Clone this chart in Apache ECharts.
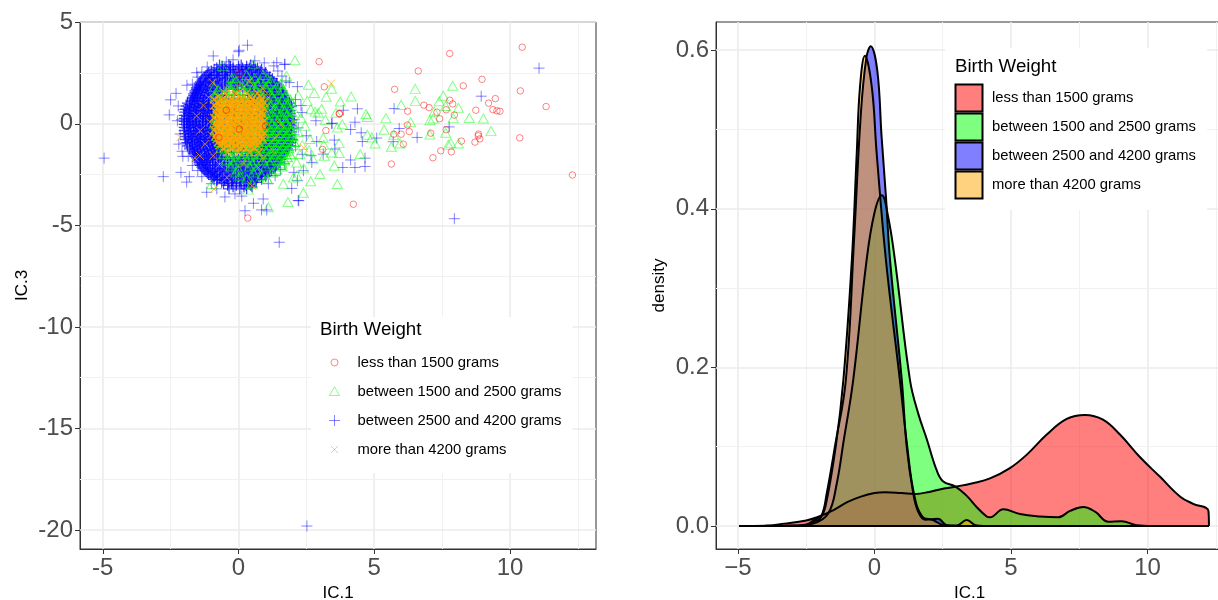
<!DOCTYPE html>
<html><head><meta charset="utf-8">
<style>html,body{margin:0;padding:0;background:#fff}#c{width:1218px;height:600px}</style>
<script src="https://cdn.jsdelivr.net/npm/echarts@6/dist/echarts.min.js"></script>
</head><body><div id="c"></div>
<script>
const legendNames=['less than 1500 grams','between 1500 and 2500 grams','between 2500 and 4200 grams','more than 4200 grams'];
const legendTitle='Birth Weight';
const xTicks=[-5,0,5,10];
const xMinor=[-2.5,2.5,7.5,12.5];
const yTicksLeft=[5,0,-5,-10,-15,-20];
const yMinorLeft=[2.5,-2.5,-7.5,-12.5,-17.5];
const yTicksRight=[0,0.2,0.4,0.6];
const yMinorRight=[0.1,0.3,0.5];

const redPoints=[[2.97,3.06],[3.16,1.82],[3.71,0.51],[3.72,0.49],[3.22,-0.33],[3.1,-1.26],[4.23,-3.96],[5.75,1.7],[6.62,2.6],[7.78,3.46],[10.45,3.77],[8.97,2.19],[8.28,1.87],[10.38,1.62],[9.46,1.24],[9.21,1.02],[9.37,0.7],[9.52,0.64],[9.63,0.62],[11.33,0.85],[8.74,0.67],[7.89,0.98],[7.78,1.16],[7.31,0.57],[7.02,0.8],[6.83,0.92],[6.23,0.62],[7.65,0.69],[7.95,0.43],[7.41,0.25],[6.22,-0.06],[6.29,-0.38],[5.99,-0.51],[5.72,-0.51],[6.07,-1],[5.63,-1.98],[7.08,-0.46],[7.65,-0.29],[8.21,-0.85],[8.71,-0.9],[8.89,-0.74],[8.83,-0.59],[8.84,-0.51],[7.84,-1.38],[7.45,-1.33],[7.16,-1.67],[10.36,-0.69],[12.3,-2.52],[0.02,2.47],[0.02,1.78],[1.1,1.29],[-0.45,0.67],[0.03,-0.26],[1,-0.1],[-0.72,-0.67],[0.34,-4.64]];

const greenOuter=[[2.08,3.13],[2.57,1.92],[2.79,1.52],[3.23,1.33],[3.43,1.73],[3.75,1.1],[4.15,1.34],[2.53,1.13],[2.66,0.72],[2.82,0.6],[3.06,0.74],[2.94,0.54],[3.59,0.54],[3.2,0.2],[3.82,-0.02],[3.64,-0.18],[4.7,0.48],[4.74,0.34],[3.12,-0.69],[3.71,-0.95],[3.14,-1.03],[2.63,-0.75],[3.71,-1.44],[4.48,-1.49],[3.43,-1.41],[3.16,-1.57],[3.53,-2.06],[3,-2.47],[3.64,-2.96],[2.66,-2.83],[2.39,-3.39],[1.82,-3.85],[2.14,-1.9],[1.65,-2.95],[2.02,-2.64],[2.26,-1.49],[4.74,-0.54],[5.03,-0.97],[4.91,-0.67],[5.36,-0.29],[5.43,0.28],[5.99,0.93],[6.51,1.72],[6.51,1.13],[6.34,0.08],[5.72,-0.54],[5.63,-1.13],[5.95,-0.97],[7.05,0.18],[7.17,0.26],[7.21,0.6],[7.39,1.11],[7.54,1.38],[7.89,1.87],[7.63,0.88],[8.1,0.79],[7.91,0.28],[8.5,0.29],[9.02,0.26],[9.3,-0.36],[7.63,-0.44],[7.05,-0.53],[7.73,-1.03],[7.82,-0.95],[8.1,-0.97],[-0.6,2.85],[-0.13,2.25],[0.55,2.93],[1.1,-4.11],[-0.99,-2.96],[0.36,-3.24],[1.77,2.36],[1.65,1.7],[2.3,0.3],[2.1,0.55],[2.45,-0.1],[2.2,-0.4],[2.35,-1.05],[2.6,-1.3],[2.75,-1.75],[2.4,-2.2],[2.15,-2.55],[1.95,1.05],[2.2,1.4]];
const greenRows=[
[2.4,0.3,0.9],
[2.1,-0.1,0.45,0.8,1.2],
[1.8,-0.9,-0.35,0.1,0.55,1,1.4],
[1.5,-0.85,-0.5,-0.1,0.3,0.75,1.15,1.5],
[1.2,-0.7,-0.2,0.2,0.6,0.95,1.3,1.6,1.9],
[0.9,-0.75,-0.35,0.1,0.5,0.85,1.2,1.5,1.8],
[0.6,-0.8,-0.4,0,0.4,0.8,1.1,1.4,1.7,1.95],
[0.3,-0.85,-0.45,0,0.35,0.7,1.05,1.35,1.65,1.9],
[0,-0.9,-0.5,-0.1,0.3,0.7,1,1.25,1.5,1.75,2],
[-0.3,-0.85,-0.4,0,0.35,0.65,0.95,1.2,1.45,1.7,1.95],
[-0.6,-0.8,-0.35,0.05,0.4,0.7,1,1.25,1.5,1.75,2],
[-0.9,-0.7,-0.3,0.1,0.45,0.75,1.05,1.3,1.55,1.8,2.05],
[-1.2,-0.65,-0.25,0.15,0.5,0.8,1.1,1.35,1.6,1.85],
[-1.5,-0.55,-0.15,0.2,0.55,0.85,1.15,1.4,1.65,1.9],
[-1.8,-0.45,-0.1,0.3,0.6,0.9,1.2,1.45,1.7],
[-2.1,-0.3,0.4,1,1.6],
[-2.4,-0.1,0.55,1.25],
[-2.7,0.3,1.05]];
const greenRows2=[
[2.25,-0.25,0.6,1.05],
[1.95,-0.2,0.25,0.7,1.1,1.55],
[1.65,-0.75,-0.25,0.2,0.65,1.05,1.3,1.65],
[1.35,-0.85,-0.35,0.05,0.45,0.85,1.25,1.7],
[1.05,-0.5,-0.05,0.35,0.75,1.1,1.45,1.75],
[0.75,-0.55,-0.15,0.25,0.65,1,1.35,1.65,1.9],
[0.45,-0.6,-0.2,0.2,0.55,0.9,1.25,1.55,1.8],
[0.15,-0.65,-0.25,0.15,0.5,0.85,1.15,1.45,1.75],
[-0.15,-0.7,-0.3,0.1,0.45,0.8,1.1,1.35,1.6,1.85],
[-0.45,-0.6,-0.2,0.2,0.5,0.8,1.1,1.35,1.6,1.85],
[-0.75,-0.55,-0.15,0.25,0.55,0.85,1.15,1.4,1.65,1.9],
[-1.05,-0.5,-0.1,0.3,0.6,0.9,1.2,1.45,1.7,1.95],
[-1.35,-0.4,0,0.35,0.65,1,1.25,1.5,1.75],
[-1.65,-0.3,0.1,0.4,0.75,1.05,1.3,1.55,1.8],
[-1.95,-0.2,0.5,1.15,1.6],
[-2.25,0,0.65,1.4],
[-2.55,0.05,0.85],
[-2.95,0.5]];

const blueOuter=[[1.7,2.93],[1.87,2.03],[2.17,1.83],[2.34,0.56],[2.85,0.15],[3.86,0.67],[4.38,0.74],[3.43,0.01],[3.45,0.03],[4.29,0.08],[4.13,-0.28],[4.52,-0.44],[4.56,-0.87],[5.09,-0.7],[5.73,0.75],[5.92,-0.23],[5.7,-0.88],[6.58,-0.67],[7.76,-0.15],[8.94,1.36],[11.07,2.74],[7.95,-4.67],[3.53,-0.8],[3.55,-1.24],[3.12,-1.49],[4.13,-1.78],[4.66,-1.69],[4.29,-2.15],[4.66,-2.1],[3.84,-2.15],[2.5,-0.59],[2.88,-0.87],[2.67,-1.57],[2.7,-1.9],[2.39,-2.31],[2.04,-2.39],[2.17,-2.8],[1.96,-3.18],[2.22,-3.78],[2.52,-19.8],[-4.95,-1.69],[-2.77,-2.6],[-2.5,1.18],[-2.55,0.44],[-2.22,0.88],[-2.12,-2.39],[-1.81,-2.6],[-1.91,-2.87],[1.5,-5.83],[0.33,3.87],[-0.93,3.34],[0,3.55],[0.03,3.62],[1.41,3.01],[1.71,2.93],[0.55,-3.91],[0.24,-4.28],[0.85,-4.24],[1.04,-4.24],[2.2,-3.78],[0.12,-3.56],[-1.17,-3.37],[-0.5,-3.6],[-0.13,-3.45],[0.91,-3.7],[-1.54,2.52],[2.1,1.2],[2.3,0.9],[2.05,0.2],[2.2,-0.2],[2.1,-1.1],[2.35,-1.5],[-2.1,0.2],[-2.15,-0.5],[-2.2,-1],[-2.05,-1.6],[-2.3,1.5],[-1.9,1.9],[-2.02,0.7],[-1.98,-0.95],[-2.25,0.15],[-2.08,-1.35],[2.05,-0.55],[-1.5,2.3],[-1.35,2.55],[1.45,2.6],[1.6,2.35],[1.75,2.1],[-1.7,1.95],[1.3,2.85],[-1.15,2.8],[-1.5,-2.3],[-1.35,-2.6],[1.35,-2.55],[1.55,-2.25],[1.7,-1.95],[-1.7,-2.05],[-1,-2.95],[1.1,-2.95],[-0.8,-3.2],[-0.45,3.05],[0.6,3.1],[0.95,3],[-0.2,3.15],[1.85,-1.3],[-1.85,-1.6]];
const blueRows=[
[2.9,-0.7,-0.35,0.1,0.45],
[2.75,-0.8,-0.5,-0.2,0.15,0.4,0.7],
[2.6,-1,-0.75,-0.45,-0.1,0.25,0.5,0.8],
[2.45,-1.15,-0.9,-0.6,-0.3,0.05,0.35,0.65,0.95],
[2.3,-1.25,-1,-0.7,-0.4,-0.05,0.3,0.6,0.85,1.15],
[2.15,-1.35,-1.1,-0.8,-0.5,-0.15,0.2,0.55,0.9,1.2],
[2,-1.45,-1.2,-0.95,-0.6,-0.25,0.1,0.5,0.85,1.15,1.4],
[1.85,-1.5,-1.3,-1.05,-0.75,-0.4,0,0.45,0.8,1.1,1.35],
[1.7,-1.55,-1.35,-1.1,-0.85,-0.5,-0.1,0.4,0.8,1.05,1.3,1.5],
[1.55,-1.6,-1.4,-1.15,-0.9,-0.6,0.5,0.85,1.1,1.35,1.6],
[1.4,-1.65,-1.45,-1.2,-0.95,-0.65,0.6,0.9,1.15,1.4,1.65],
[1.25,-1.7,-1.5,-1.25,-1,-0.7,0.7,0.95,1.2,1.45,1.7],
[1.1,-1.75,-1.5,-1.3,-1.05,-0.75,0.75,1,1.25,1.5,1.75],
[0.95,-1.8,-1.55,-1.3,-1.1,-0.85,0.8,1.05,1.3,1.55,1.8],
[0.8,-1.8,-1.6,-1.35,-1.1,-0.85,0.85,1.1,1.35,1.6,1.85],
[0.65,-1.85,-1.6,-1.4,-1.15,-0.9,0.9,1.15,1.4,1.65,1.9],
[0.5,-1.85,-1.65,-1.4,-1.15,-0.9,0.9,1.2,1.45,1.7,1.9],
[0.35,-1.9,-1.65,-1.4,-1.2,-0.95,0.95,1.2,1.45,1.7,1.9],
[0.2,-1.9,-1.7,-1.45,-1.2,-0.95,0.95,1.25,1.5,1.75,1.95],
[0.05,-1.9,-1.7,-1.45,-1.2,-1,1,1.25,1.5,1.75,1.95],
[-0.1,-1.9,-1.65,-1.45,-1.2,-0.95,1,1.25,1.5,1.75,1.95],
[-0.25,-1.9,-1.65,-1.4,-1.2,-0.95,0.95,1.2,1.45,1.7,1.95],
[-0.4,-1.85,-1.65,-1.4,-1.15,-0.95,0.95,1.2,1.45,1.7,1.95],
[-0.55,-1.85,-1.6,-1.4,-1.15,-0.9,0.9,1.15,1.4,1.65,1.9],
[-0.7,-1.85,-1.6,-1.35,-1.1,-0.9,0.9,1.15,1.4,1.65,1.9],
[-0.85,-1.8,-1.55,-1.35,-1.1,-0.85,0.85,1.1,1.35,1.6,1.85],
[-1,-1.75,-1.5,-1.3,-1.05,-0.8,0.8,1.05,1.3,1.55,1.8],
[-1.15,-1.75,-1.5,-1.25,-1,-0.75,0.75,1,1.25,1.5,1.75],
[-1.3,-1.7,-1.45,-1.2,-0.95,-0.7,0.7,0.95,1.2,1.45,1.7],
[-1.45,-1.65,-1.4,-1.15,-0.9,-0.6,0.55,0.9,1.15,1.4,1.65],
[-1.6,-1.6,-1.35,-1.1,-0.85,-0.5,0.1,0.5,0.85,1.1,1.35,1.6],
[-1.75,-1.5,-1.25,-1.05,-0.75,-0.4,0,0.4,0.8,1.05,1.3,1.55],
[-1.9,-1.45,-1.2,-0.95,-0.65,-0.3,0.05,0.45,0.75,1,1.25,1.5],
[-2.05,-1.4,-1.15,-0.85,-0.55,-0.2,0.15,0.5,0.8,1.05,1.3],
[-2.2,-1.3,-1.05,-0.8,-0.5,-0.15,0.2,0.55,0.85,1.1,1.3],
[-2.35,-1.2,-0.95,-0.7,-0.4,-0.05,0.3,0.6,0.9,1.15],
[-2.5,-1.1,-0.85,-0.6,-0.3,0.05,0.35,0.65,0.95],
[-2.65,-0.95,-0.7,-0.45,-0.15,0.15,0.45,0.7],
[-2.8,-0.8,-0.5,-0.25,0.05,0.3,0.6],
[-2.95,-0.55,-0.25,0.1,0.4],
[-3.1,-0.2,0.2,0.5]];
const blueRows2=[
[2.83,-0.6,-0.3,0,0.3,0.55],
[2.68,-0.9,-0.6,-0.3,0.02,0.3,0.62,0.85],
[2.53,-1.1,-0.82,-0.52,-0.2,0.12,0.42,0.72,1],
[2.38,-1.2,-1.05,-0.78,-0.48,-0.15,0.18,0.48,0.78,1.05],
[2.22,-1.3,-1.05,-0.75,-0.42,-0.1,0.25,0.52,0.8,1.08,1.25],
[2.07,-1.4,-1.22,-0.98,-0.68,-0.32,0.02,0.38,0.72,1.02,1.3],
[1.92,-1.45,-1.4,-1.15,-0.85,-0.5,-0.12,0.28,0.65,0.98,1.25,1.42],
[1.77,-1.55,-1.45,-1.2,-0.95,-0.62,-0.2,0.3,0.68,0.95,1.22,1.48],
[1.62,-1.6,-1.5,-1.25,-1,-0.72,0.35,0.72,1,1.25,1.48,1.6],
[1.47,-1.65,-1.55,-1.3,-1.05,-0.78,0.55,0.78,1.02,1.28,1.52,1.62],
[1.32,-1.7,-1.6,-1.35,-1.1,-0.82,0.65,0.82,1.08,1.32,1.58,1.68],
[1.17,-1.75,-1.62,-1.4,-1.15,-0.88,0.78,1.08,1.38,1.62,1.75],
[1.02,-1.88,-1.65,-1.42,-1.18,-0.95,0.85,1.12,1.42,1.68,1.88],
[0.87,-1.92,-1.68,-1.45,-1.22,-0.98,0.92,1.18,1.45,1.72,1.95],
[0.72,-1.95,-1.72,-1.48,-1.25,-1,0.95,1.22,1.5,1.78],
[0.57,-1.98,-1.75,-1.52,-1.28,-1.02,1,1.28,1.55,1.8],
[0.42,-2,-1.78,-1.55,-1.3,-1.05,1.02,1.32,1.58,1.82],
[0.27,-2,-1.8,-1.55,-1.32,-1.08,1.05,1.35,1.62,1.88],
[0.12,-2,-1.82,-1.58,-1.32,-1.1,1.1,1.38,1.62,1.88],
[-0.03,-2,-1.82,-1.58,-1.32,-1.1,1.12,1.38,1.62,1.88],
[-0.18,-2,-1.78,-1.55,-1.32,-1.08,1.08,1.35,1.6,1.85],
[-0.33,-2,-1.78,-1.52,-1.3,-1.05,1.05,1.32,1.58,1.82],
[-0.48,-1.98,-1.75,-1.52,-1.28,-1.02,1.02,1.28,1.55,1.78],
[-0.63,-1.95,-1.72,-1.48,-1.25,-1,1,1.25,1.52,1.78],
[-0.78,-1.95,-1.7,-1.45,-1.22,-0.98,0.98,1.22,1.48,1.72,1.98],
[-0.93,-1.9,-1.68,-1.42,-1.2,-0.95,0.92,1.18,1.42,1.68,1.92],
[-1.08,-1.88,-1.62,-1.4,-1.15,-0.9,0.88,1.12,1.38,1.62,1.88],
[-1.23,-1.8,-1.6,-1.35,-1.1,-0.85,0.82,1.08,1.32,1.58,1.8],
[-1.38,-1.68,-1.55,-1.3,-1.05,-0.78,0.62,0.82,1.05,1.3,1.55,1.68],
[-1.53,-1.62,-1.5,-1.25,-1,-0.72,0.32,0.72,1,1.25,1.5,1.62],
[-1.68,-1.55,-1.45,-1.18,-0.95,-0.62,-0.2,0.25,0.65,0.95,1.2,1.45,1.55],
[-1.83,-1.5,-1.35,-1.12,-0.85,-0.52,-0.12,0.28,0.62,0.92,1.15,1.4],
[-1.98,-1.45,-1.3,-1.05,-0.75,-0.4,-0.05,0.32,0.65,0.9,1.15,1.38],
[-2.13,-1.35,-1.2,-0.95,-0.65,-0.32,0.05,0.38,0.68,0.95,1.2,1.35],
[-2.28,-1.25,-1.12,-0.88,-0.58,-0.25,0.1,0.42,0.72,1,1.22],
[-2.43,-1.15,-1.02,-0.78,-0.48,-0.15,0.2,0.5,0.8,1.05],
[-2.58,-1,-0.9,-0.65,-0.35,-0.05,0.28,0.58,0.85,1],
[-2.73,-0.9,-0.78,-0.52,-0.22,0.08,0.38,0.65,0.85],
[-2.88,-0.62,-0.38,-0.08,0.22,0.52,0.65],
[-3.03,-0.4,-0.08,0.28,0.45],
[-3.2,-0.35,0.05,0.3]];
const blueRows3=[
[1.4,-0.45,-0.15,0.15,0.42],
[1.2,-0.55,-0.25,0.05,0.35,0.6],
[1,-0.68,-0.38,-0.08,0.22,0.52],
[0.8,-0.72,-0.42,-0.12,0.18,0.48,0.72],
[0.6,-0.75,-0.45,-0.15,0.15,0.45,0.75],
[0.4,-0.78,-0.48,-0.18,0.12,0.42,0.72],
[0.2,-0.8,-0.5,-0.2,0.1,0.4,0.7],
[0,-0.82,-0.52,-0.22,0.08,0.38,0.68],
[-0.2,-0.8,-0.5,-0.2,0.1,0.4,0.7],
[-0.4,-0.78,-0.48,-0.18,0.12,0.42,0.72],
[-0.6,-0.75,-0.45,-0.15,0.15,0.45,0.75],
[-0.8,-0.72,-0.42,-0.12,0.18,0.48,0.72],
[-1,-0.68,-0.38,-0.08,0.22,0.52],
[-1.2,-0.55,-0.25,0.05,0.35,0.6],
[-1.4,-0.45,-0.15,0.15,0.42]];

const orangeOuter=[[-2.15,-0.67],[-1.42,-1.58],[-1.6,-1.68],[-0.9,-3.21],[0.49,-3.05],[3.41,1.98],[2.41,-1.18],[2.02,0.08],[-0.95,2.03],[0.91,1.7],[1.1,1.3],[-0.43,1.7],[-1.54,0.39],[-1.42,-0.34],[-1.23,-1],[-0.93,-1.57],[-0.43,-2.64],[0.74,-2.15],[1.28,-1.33],[1.53,-0.01],[0.4,2.1],[-1.1,1.3],[-1.3,0.9],[1.25,0.8],[1.35,-0.7],[-0.7,-2],[0.2,-1.95],[0.9,-1.7],[-1.05,0.1],[-1,-0.55]];
const orangeRows=[
[1.5,-0.5,-0.1,0.3,0.7],
[1.35,-0.75,-0.35,0.05,0.45,0.8],
[1.2,-0.9,-0.6,-0.25,0.15,0.5,0.85],
[1.05,-0.8,-0.55,-0.3,-0.05,0.2,0.45,0.7,0.95],
[0.9,-0.9,-0.65,-0.4,-0.15,0.1,0.35,0.6,0.85],
[0.75,-0.8,-0.55,-0.3,-0.05,0.2,0.45,0.7,0.95],
[0.6,-0.85,-0.6,-0.4,-0.15,0.1,0.35,0.6,0.85],
[0.45,-0.8,-0.6,-0.3,-0.05,0.2,0.45,0.7,0.9],
[0.3,-0.9,-0.65,-0.4,-0.15,0.1,0.35,0.6,0.85],
[0.15,-0.8,-0.55,-0.3,-0.05,0.2,0.45,0.7,0.95],
[0,-0.85,-0.6,-0.4,-0.15,0.1,0.35,0.6,0.85],
[-0.15,-0.8,-0.55,-0.3,-0.05,0.2,0.45,0.7,0.9],
[-0.3,-0.9,-0.65,-0.4,-0.15,0.1,0.35,0.6,0.85],
[-0.45,-0.8,-0.55,-0.3,-0.05,0.2,0.45,0.7,0.95],
[-0.6,-0.85,-0.6,-0.4,-0.15,0.1,0.35,0.6,0.85],
[-0.75,-0.8,-0.55,-0.3,-0.05,0.2,0.45,0.7,0.9],
[-0.9,-0.75,-0.5,-0.25,0,0.25,0.5,0.75],
[-1.05,-0.7,-0.4,-0.1,0.15,0.4,0.7],
[-1.2,-0.55,-0.25,0.05,0.3,0.6],
[-1.4,-0.4,0,0.4,0.75]];
const orangeRows2=[
[1.1,-0.68,-0.42,-0.18,0.08,0.32,0.58,0.82],
[0.97,-0.72,-0.48,-0.22,0.02,0.28,0.52,0.78],
[0.82,-0.68,-0.42,-0.18,0.08,0.32,0.58,0.82],
[0.67,-0.72,-0.48,-0.22,0.02,0.28,0.52,0.78],
[0.52,-0.68,-0.42,-0.18,0.08,0.32,0.58,0.82],
[0.37,-0.72,-0.48,-0.22,0.02,0.28,0.52,0.78],
[0.22,-0.68,-0.42,-0.18,0.08,0.32,0.58,0.82],
[0.07,-0.72,-0.48,-0.22,0.02,0.28,0.52,0.78],
[-0.08,-0.68,-0.42,-0.18,0.08,0.32,0.58,0.82],
[-0.23,-0.72,-0.48,-0.22,0.02,0.28,0.52,0.78],
[-0.38,-0.68,-0.42,-0.18,0.08,0.32,0.58,0.82],
[-0.53,-0.72,-0.48,-0.22,0.02,0.28,0.52,0.78],
[-0.68,-0.68,-0.42,-0.18,0.08,0.32,0.58,0.82],
[-0.83,-0.62,-0.38,-0.12,0.12,0.38,0.62],
[-0.98,-0.58,-0.28,0.02,0.28,0.55],
[-1.13,-0.45,-0.12,0.18,0.48]];

const densRed=[[-4.95,0],[-4,0.0003],[-3.3,0.003],[-2.5,0.007],[-2.1,0.011],[-1.5,0.02],[-1,0.03],[-0.5,0.037],[0,0.0415],[0.4,0.0425],[1,0.0415],[1.5,0.0405],[2,0.043],[2.5,0.047],[2.95,0.0495],[3.6,0.054],[4.23,0.06],[4.96,0.073],[5.58,0.09],[6.3,0.115],[7.04,0.135],[7.71,0.14],[8.37,0.134],[9,0.115],[9.72,0.087],[10.46,0.062],[11.2,0.037],[11.67,0.028],[12.23,0.0193],[12.25,0]];
const densGreen=[[-4.95,0],[-3,0.0002],[-2.25,0.003],[-1.69,0.016],[-1.38,0.054],[-1.14,0.105],[-0.78,0.184],[-0.29,0.335],[0,0.395],[0.27,0.417],[0.5,0.39],[0.75,0.335],[1.3,0.184],[1.6,0.142],[1.91,0.11],[2.28,0.07],[2.52,0.056],[2.95,0.05],[3.38,0.038],[3.74,0.024],[4.11,0.012],[4.23,0.011],[4.72,0.021],[5.33,0.015],[6.06,0.012],[6.73,0.011],[7.16,0.019],[7.65,0.024],[8.08,0.018],[8.56,0.0055],[9.05,0.006],[9.6,0.001],[10.2,0],[12.25,0]];
const densBlue=[[-4.95,0],[-4,0.0002],[-3,0.0005],[-2.5,0.002],[-2.18,0.008],[-1.93,0.014],[-1.75,0.041],[-1.45,0.1],[-1.05,0.184],[-0.75,0.36],[-0.5,0.52],[-0.3,0.59],[-0.14,0.605],[0.1,0.575],[0.26,0.491],[0.42,0.415],[0.57,0.335],[1,0.184],[1.18,0.1],[1.42,0.041],[1.6,0.018],[1.85,0.008],[2.33,0.009],[2.64,0.001],[3,0],[12.25,0]];
const densOrange=[[-4.95,0],[-2.5,0],[-2.2,0.006],[-2,0.009],[-1.8,0.024],[-1.42,0.1],[-1.14,0.184],[-0.83,0.335],[-0.65,0.47],[-0.53,0.554],[-0.35,0.593],[-0.1,0.554],[0.08,0.47],[0.42,0.335],[0.93,0.184],[1.2,0.1],[1.45,0.04],[1.75,0.012],[2.14,0.0075],[2.55,0.001],[3,0.0005],[3.38,0.0075],[3.7,0.001],[4,0],[12.25,0]];
const baselineX=[-4.95,12.25];

const rows=r=>r.flatMap(a=>a.slice(1).map(x=>[x,a[0]]));
const INK='#333333',TICK='#4d4d4d',GRID='#ebebeb',FONT='"Liberation Sans",Arial,sans-serif';
const cRed='rgba(255,0,0,0.6)',cGreen='rgba(0,255,0,0.6)',cBlue='rgba(0,0,255,0.6)';
const sym={red:'circle',
 green:'triangle',
 blue:'path://M0 5H10M5 0V10',
 orange:'path://M0 0L10 10M10 0L0 10'};
const box='M0 0L0 0M37 16L37 16';
const legSym=[
 'path://'+box+'M22.5 8A3.5 3.5 0 1 0 15.5 8A3.5 3.5 0 1 0 22.5 8Z',
 'path://'+box+'M19 3.2L24 12H14Z',
 'path://'+box+'M13.5 8H24.5M19 2.5V13.5',
 'path://'+box+'M15.5 4.5L22.5 11.5M22.5 4.5L15.5 11.5'];
const legCols=[cRed,cGreen,cBlue,'rgba(255,165,0,0.75)'];
const swatch='path://M0 0L0 0M32 28L32 28M0.5 0.5H27.5V27.5H0.5Z';
const fills=['rgba(255,0,0,0.5)','rgba(0,255,0,0.5)','rgba(0,0,255,0.5)','rgba(255,165,0,0.5)'];
const scat=(name,data,symbol,size,col,w)=>({type:'scatter',name,data,symbol,symbolSize:size,xAxisIndex:0,yAxisIndex:0,z:3,
 itemStyle:{color:'transparent',borderColor:col,borderWidth:w||1},silent:true,animation:false,clip:true,progressive:0});
const dens=(name,data,fill)=>({type:'line',name,data,xAxisIndex:1,yAxisIndex:1,z:3,symbol:'none',smooth:0.4,
 lineStyle:{color:'#000',width:2},areaStyle:{color:fill,opacity:1},silent:true,animation:false});
const gridLines=(xi,major,minor,axis)=>({type:'line',xAxisIndex:xi,yAxisIndex:xi,data:[],z:1,silent:true,animation:false,
 markLine:{silent:true,symbol:'none',animation:false,z:1,label:{show:false},
  data:[...major.map(v=>({[axis]:v,lineStyle:{color:GRID,width:1.6,type:'solid'}})),...minor.map(v=>({[axis]:v,lineStyle:{color:'#f1f1f1',width:1,type:'solid'}}))]}});
const cat=(idx,min,max,ticks,fmt)=>({type:'value',gridIndex:idx,min,max,name:'IC.1',nameLocation:'middle',nameGap:36,
 nameTextStyle:{fontSize:17,color:'#000',fontFamily:FONT},
 splitLine:{show:false},axisLine:{show:true,onZero:false,lineStyle:{color:INK,width:1}},
 axisTick:{show:true,length:5,customValues:ticks,lineStyle:{color:INK,width:1}},
 axisLabel:{customValues:ticks,fontSize:24,color:TICK,margin:7,fontFamily:FONT,formatter:fmt}});
const vert=(idx,min,max,ticks,fmt,name,gap)=>({type:'value',gridIndex:idx,min,max,name,nameLocation:'middle',nameGap:gap,
 nameTextStyle:{fontSize:17,color:'#000',fontFamily:FONT},
 splitLine:{show:false},axisLine:{show:true,onZero:false,lineStyle:{color:INK,width:1}},
 axisTick:{show:true,length:5,customValues:ticks,lineStyle:{color:INK,width:1}},
 axisLabel:{customValues:ticks,fontSize:24,color:TICK,margin:7,fontFamily:FONT,formatter:fmt}});
const leftLegend={show:true,orient:'vertical',left:311,top:317,padding:[37,11,15,4],backgroundColor:'#fff',itemWidth:37,itemHeight:16,itemGap:12,
 textStyle:{fontSize:14.8,color:'#000',fontFamily:FONT,lineHeight:16},selectedMode:false,
 data:legendNames.map((n,i)=>({name:n,icon:legSym[i],itemStyle:{color:'transparent',borderColor:legCols[i],borderWidth:1}}))};
const rightLegend={show:true,orient:'vertical',left:945,top:48,padding:[35,7,10,9],backgroundColor:'#fff',itemWidth:32,itemHeight:28,itemGap:-1,
 textStyle:{fontSize:14.8,color:'#000',fontFamily:FONT,lineHeight:16},selectedMode:false,
 data:legendNames.map((n,i)=>({name:n+' ',icon:swatch,itemStyle:{color:fills[i],borderColor:'#000',borderWidth:2}}))};
const chart=echarts.init(document.getElementById('c'),null,{renderer:'canvas'});
chart.setOption({
 animation:false,backgroundColor:'#fff',
 title:[
  {text:legendTitle,left:320,top:320,padding:0,textStyle:{fontSize:18.7,fontWeight:'normal',color:'#000',fontFamily:FONT}},
  {text:legendTitle,left:955,top:57,padding:0,textStyle:{fontSize:18.7,fontWeight:'normal',color:'#000',fontFamily:FONT}}],
 legend:[leftLegend,rightLegend],
 grid:[
  {left:80,top:22,width:516,height:527,show:true,borderColor:INK,borderWidth:1,backgroundColor:'#fff',outerBoundsMode:'none'},
  {left:716,top:22,width:507,height:527,show:true,borderColor:INK,borderWidth:1,backgroundColor:'#fff',outerBoundsMode:'none'}],
 xAxis:[cat(0,-5.838,13.168,xTicks,v=>String(v)),cat(1,-5.805,12.765,xTicks,v=>String(v).replace('-','\u2212'))],
 yAxis:[vert(0,-20.93,5.012,yTicksLeft,v=>String(v),'IC.3',49),vert(1,-0.029,0.6355,yTicksRight,v=>v.toFixed(1),'density',48)],
 series:[
  gridLines(0,xTicks,xMinor,'xAxis'),gridLines(0,yTicksLeft,yMinorLeft,'yAxis'),
  gridLines(1,xTicks,xMinor,'xAxis'),gridLines(1,yTicksRight,yMinorRight,'yAxis'),
  scat(legendNames[2],blueOuter,sym.blue,11,cBlue),
  scat(legendNames[2],rows(blueRows).concat(rows(blueRows2),rows(blueRows3)),sym.blue,11,'rgba(0,0,255,0.92)',1.25),
  scat(legendNames[1],greenOuter,sym.green,[10,9],cGreen),
  scat(legendNames[1],rows(greenRows).concat(rows(greenRows2)),sym.green,[10,9],'rgba(0,255,0,0.85)',1.1),
  scat(legendNames[3],orangeOuter,sym.orange,8,'rgba(255,165,0,0.85)'),
  scat(legendNames[3],rows(orangeRows).concat(rows(orangeRows2)),sym.orange,8,'rgba(255,165,0,1)',1.4),
  scat(legendNames[0],redPoints,sym.red,6.5,cRed),
  dens(legendNames[0]+' ',densRed,fills[0]),
  dens(legendNames[1]+' ',densGreen,fills[1]),
  dens(legendNames[2]+' ',densBlue,fills[2]),
  dens(legendNames[3]+' ',densOrange,fills[3]),
  {type:'line',name:'baseline',xAxisIndex:1,yAxisIndex:1,z:4,symbol:'none',silent:true,animation:false,
   data:baselineX.map(x=>[x,0]),lineStyle:{color:'#000',width:2.2}}
 ]
});
</script></body></html>
